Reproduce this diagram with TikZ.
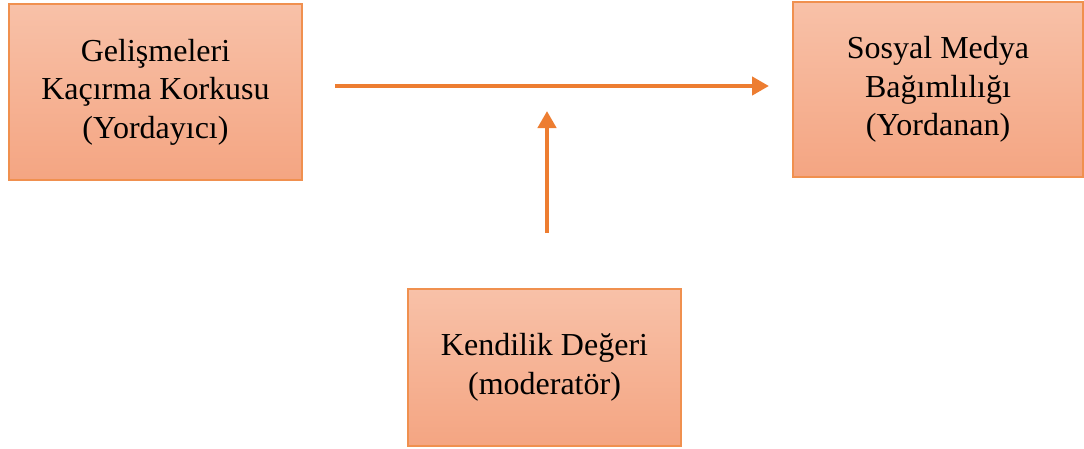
\documentclass[tikz,border=0pt]{standalone}
\usepackage{fontspec}
\setmainfont{Liberation Serif}
\usetikzlibrary{arrows.meta}
\definecolor{boxtop}{HTML}{F8C1A8}
\definecolor{boxbot}{HTML}{F4A582}
\definecolor{boxline}{HTML}{F0904F}
\definecolor{arr}{HTML}{ED7D31}
\begin{document}
\begin{tikzpicture}[x=1pt,y=-1pt,
  varbox/.style={draw=boxline, line width=1.5pt, top color=boxtop, bottom color=boxbot,
    align=center, inner sep=0pt, font=\fontsize{32}{38.5}\selectfont},
  conn/.style={draw=arr, line width=4.6pt, -{Triangle[length=17pt,width=18pt]}}]
\useasboundingbox (0,0) rectangle (1084,448);
\node[varbox, minimum width=293pt, minimum height=176pt] (fomo) at (155.5,92) {Gelişmeleri\\Kaçırma Korkusu\\(Yordayıcı)};
\node[varbox, minimum width=290pt, minimum height=175pt] (smb) at (938,89.5) {Sosyal Medya\\Bağımlılığı\\(Yordanan)};
\node[varbox, minimum width=273pt, minimum height=157pt] (self) at (544.5,367.5) {Kendilik Değeri\\(moderatör)};
\coordinate (hstart) at (335,86);
\coordinate (hend) at (769,86);
\coordinate (vstart) at (547,233);
\coordinate (vend) at (547,111);
\draw[conn] (hstart) -- (hend);
\draw[conn] (vstart) -- (vend);
\end{tikzpicture}
\end{document}
